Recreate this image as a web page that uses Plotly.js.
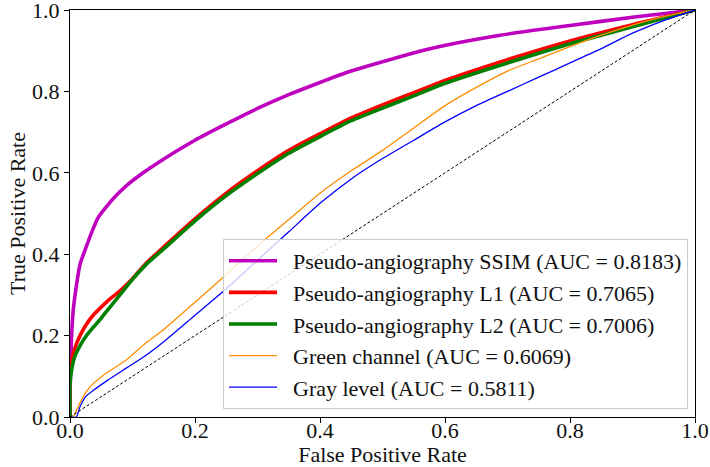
<!DOCTYPE html>
<html>
<head>
<meta charset="utf-8">
<script src="https://cdn.plot.ly/plotly-3.0.1.min.js"></script>
<style>html,body{margin:0;padding:0;background:#fff;}#chart{width:710px;height:467px;}</style>
</head>
<body>
<div id="chart"></div>
<script>
// ROC curves
const ssimFpr = [0, 0.0005, 0.002, 0.005, 0.01, 0.016, 0.024, 0.035, 0.045, 0.061, 0.075, 0.09, 0.117, 0.144, 0.2, 0.25, 0.3, 0.35, 0.4, 0.45, 0.5, 0.576, 0.688, 0.8, 0.9, 1.0];
const ssimTpr = [0, 0.1, 0.18, 0.26, 0.32, 0.375, 0.41, 0.455, 0.49, 0.522, 0.546, 0.568, 0.6, 0.628, 0.68, 0.72, 0.758, 0.792, 0.822, 0.85, 0.873, 0.905, 0.938, 0.962, 0.982, 1.0];

const l1Fpr = [0, 0, 0.003, 0.008, 0.016, 0.025, 0.037, 0.05, 0.064, 0.08, 0.1, 0.12, 0.15, 0.2, 0.25, 0.3, 0.35, 0.4, 0.45, 0.5, 0.55, 0.6, 0.7, 0.8, 0.9, 1.0];
const l1Tpr = [0, 0.1, 0.14, 0.17, 0.2, 0.225, 0.25, 0.27, 0.29, 0.31, 0.34, 0.375, 0.418, 0.487, 0.55, 0.605, 0.655, 0.696, 0.735, 0.767, 0.797, 0.827, 0.878, 0.924, 0.964, 1.0];

const l2Fpr = [0, 0, 0.003, 0.008, 0.016, 0.025, 0.037, 0.05, 0.064, 0.08, 0.1, 0.12, 0.15, 0.2, 0.25, 0.3, 0.35, 0.4, 0.45, 0.5, 0.55, 0.6, 0.7, 0.8, 0.9, 1.0];
const l2Tpr = [0, 0.08, 0.12, 0.15, 0.175, 0.197, 0.22, 0.243, 0.27, 0.3, 0.338, 0.372, 0.413, 0.482, 0.544, 0.598, 0.648, 0.689, 0.728, 0.759, 0.789, 0.82, 0.87, 0.917, 0.959, 1.0];

const greenChFpr = [0, 0.005, 0.01, 0.016, 0.025, 0.037, 0.06, 0.09, 0.12, 0.15, 0.2, 0.25, 0.3, 0.35, 0.4, 0.45, 0.5, 0.55, 0.6, 0.65, 0.7, 0.75, 0.8, 0.85, 0.9, 0.95, 1.0];
const greenChTpr = [0, 0, 0.015, 0.035, 0.06, 0.082, 0.11, 0.14, 0.18, 0.215, 0.282, 0.35, 0.42, 0.485, 0.55, 0.605, 0.655, 0.71, 0.765, 0.81, 0.85, 0.88, 0.91, 0.938, 0.963, 0.984, 1.0];

const grayFpr = [0, 0.01, 0.016, 0.025, 0.037, 0.06, 0.09, 0.12, 0.15, 0.2, 0.25, 0.3, 0.35, 0.4, 0.45, 0.5, 0.55, 0.6, 0.65, 0.7, 0.75, 0.8, 0.85, 0.9, 0.95, 1.0];
const grayTpr = [0, 0, 0.025, 0.05, 0.065, 0.09, 0.12, 0.15, 0.185, 0.25, 0.315, 0.385, 0.455, 0.525, 0.585, 0.635, 0.68, 0.725, 0.765, 0.8, 0.835, 0.87, 0.905, 0.943, 0.974, 1.0];

const chanceX = [0, 1];
const chanceY = [0, 1];

const seriesNames = [
  "Pseudo-angiography SSIM (AUC = 0.8183)",
  "Pseudo-angiography L1 (AUC = 0.7065)",
  "Pseudo-angiography L2 (AUC = 0.7006)",
  "Green channel (AUC = 0.6069)",
  "Gray level (AUC = 0.5811)"
];
const tickVals = [0, 0.2, 0.4, 0.6, 0.8, 1.0];
const tickText = ["0.0", "0.2", "0.4", "0.6", "0.8", "1.0"];

const FONT = "Liberation Serif, Times New Roman, serif";
const PAD = "\u2002"; // gap between legend line sample and label

const traces = [
  {x: ssimFpr, y: ssimTpr, name: PAD + seriesNames[0], legendgroup: "a", line: {color: "#bf00bf", width: 3.6, shape: "spline", smoothing: 0.6}},
  {x: l1Fpr, y: l1Tpr, name: PAD + seriesNames[1], legendgroup: "b", line: {color: "#ff0000", width: 3.6, shape: "spline", smoothing: 0.6}},
  {x: l2Fpr, y: l2Tpr, name: PAD + seriesNames[2], legendgroup: "c", line: {color: "#008000", width: 3.6, shape: "spline", smoothing: 0.6}},
  {x: greenChFpr, y: greenChTpr, name: PAD + seriesNames[3], legendgroup: "d", line: {color: "#ff8c00", width: 1.3, shape: "spline", smoothing: 0.6}},
  {x: grayFpr, y: grayTpr, name: PAD + seriesNames[4], legendgroup: "e", line: {color: "#0000ff", width: 1.3, shape: "spline", smoothing: 0.6}},
  {x: chanceX, y: chanceY, showlegend: false, hoverinfo: "skip", line: {color: "#000000", width: 1, dash: "3px,2px"}}
].map(t => Object.assign({type: "scatter", mode: "lines"}, t));

const axisCommon = {
  range: [0, 1],
  tickvals: tickVals,
  ticktext: tickText,
  showgrid: false,
  zeroline: false,
  showline: true,
  mirror: true,
  linecolor: "#000",
  linewidth: 1,
  ticks: "outside",
  ticklen: 5,
  tickwidth: 1,
  tickcolor: "#000",
  ticklabeloverflow: "allow",
  tickfont: {family: FONT, size: 22, color: "#111"},
  fixedrange: true
};

const layout = {
  width: 710,
  height: 467,
  margin: {l: 70, r: 15, t: 10, b: 50},
  paper_bgcolor: "#fff",
  plot_bgcolor: "#fff",
  font: {family: FONT, size: 22, color: "#111"},
  xaxis: Object.assign({}, axisCommon, {ticklabelstandoff: -11, title: {text: "False Positive Rate", font: {family: FONT, size: 22, color: "#111"}, standoff: 0}}),
  yaxis: Object.assign({}, axisCommon, {title: {text: "True Positive Rate", font: {family: FONT, size: 22, color: "#111"}, standoff: 0}}),
  legend: {
    x: 0.9888, xanchor: "right",
    y: 0.0197, yanchor: "bottom",
    bgcolor: "rgba(255,255,255,0.8)",
    bordercolor: "#cccccc",
    borderwidth: 1,
    font: {family: FONT, size: 22, color: "#111"},
    itemwidth: 48,
    tracegroupgap: 7,
    traceorder: "normal"
  },
  showlegend: true
};

Plotly.newPlot("chart", traces, layout, {displayModeBar: false, staticPlot: true});
</script>
</body>
</html>
